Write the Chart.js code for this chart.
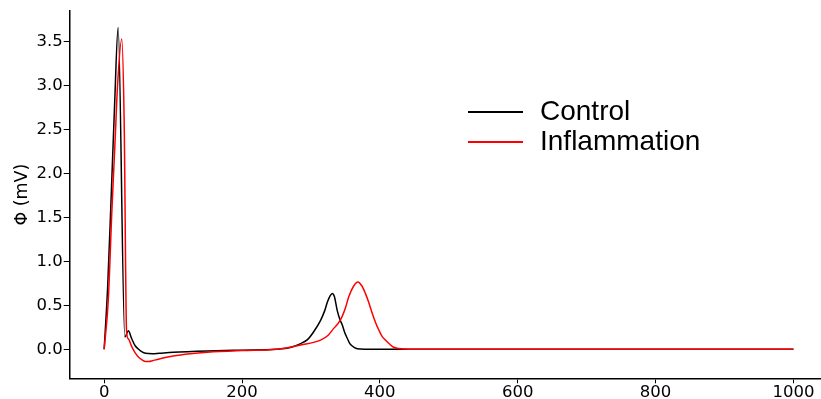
<!DOCTYPE html>
<html>
<head>
<meta charset="utf-8">
<script src="https://cdn.jsdelivr.net/npm/chart.js@4/dist/chart.umd.min.js"></script>
<style>
  html, body { margin: 0; padding: 0; background: #fff; overflow: hidden; }
  #wrap { position: relative; width: 821px; height: 399px; }
</style>
</head>
<body>
<div id="wrap"><canvas id="c" width="821" height="399"></canvas></div>
<script>
// ---- data ----
const seriesNames = ["Control", "Inflammation"];
const seriesColors = ["#000000", "#ff0000"];

const tControl = [0, 5, 10, 15, 20.3, 30, 35, 40, 45, 50, 55, 60, 70, 80, 100, 150, 200, 250, 270, 285, 295, 304, 314, 320, 324, 328, 331, 334, 338, 342, 345.5, 349, 352.7, 356, 360, 365, 372, 385, 500, 1000];
const vControl = [0, 0.7, 1.7, 2.75, 3.66, 0.14, 0.21, 0.12, 0.04, 0.0, -0.03, -0.045, -0.05, -0.045, -0.035, -0.02, -0.01, 0.0, 0.02, 0.065, 0.11, 0.2, 0.33, 0.44, 0.54, 0.61, 0.635, 0.6, 0.446, 0.34, 0.276, 0.19, 0.125, 0.07, 0.037, 0.012, 0.003, 0.0, 0.0, 0.0];

const tInfl = [0, 6, 11, 16, 19.4, 25.5, 29, 32.5, 35, 40, 45, 50, 55, 60, 65, 70, 80, 100, 125, 150, 200, 250, 285, 314, 325, 333, 340, 345.5, 350, 355, 362, 368, 374, 379, 384, 389, 394, 398.5, 403, 408, 414, 420, 428, 435, 450, 1000];
const vInfl = [0, 0.56, 1.54, 2.4, 3.0, 3.53, 2.6, 0.2, 0.12, 0.03, -0.04, -0.09, -0.12, -0.14, -0.14, -0.13, -0.11, -0.076, -0.05, -0.034, -0.015, 0.0, 0.049, 0.105, 0.16, 0.238, 0.3, 0.378, 0.47, 0.6, 0.72, 0.767, 0.72, 0.636, 0.53, 0.408, 0.3, 0.219, 0.15, 0.105, 0.06, 0.023, 0.008, 0.003, 0.0, 0.0];

const xTicks = [0, 200, 400, 600, 800, 1000];
const yTicks = [0.0, 0.5, 1.0, 1.5, 2.0, 2.5, 3.0, 3.5];
const yTitle = "Φ (mV)";

// ---- build ----
const toPts = (t, v) => t.map((x, i) => ({ x: x, y: v[i] }));

const legendPlugin = {
  id: 'customLegend',
  afterDraw(chart) {
    const ctx = chart.ctx;
    ctx.save();
    const rows = [112, 142];
    chart.data.datasets.forEach((ds, i) => {
      const y = rows[i];
      ctx.strokeStyle = ds.borderColor;
      ctx.lineWidth = 2;
      ctx.beginPath();
      ctx.moveTo(468, y);
      ctx.lineTo(523, y);
      ctx.stroke();
      ctx.fillStyle = '#000';
      ctx.font = '28px "Liberation Sans", Arial, sans-serif';
      ctx.textBaseline = 'alphabetic';
      ctx.textAlign = 'left';
      ctx.fillText(ds.label, 540, y + 8);
    });
    ctx.restore();
  }
};

const tickFont = { family: '"DejaVu Sans", sans-serif', size: 16.5 };
const titleFont = { family: '"DejaVu Sans", sans-serif', size: 17.5 };

new Chart(document.getElementById('c'), {
  type: 'line',
  data: {
    datasets: [
      { label: seriesNames[0], data: toPts(tControl, vControl), borderColor: seriesColors[0], borderWidth: 1.5, pointRadius: 0, cubicInterpolationMode: 'monotone', fill: false, order: 2 },
      { label: seriesNames[1], data: toPts(tInfl, vInfl), borderColor: seriesColors[1], borderWidth: 1.5, pointRadius: 0, cubicInterpolationMode: 'monotone', fill: false, order: 1 }
    ]
  },
  options: {
    responsive: false,
    animation: false,
    events: [],
    layout: { padding: { top: 10, right: 0, left: 0, bottom: 0 } },
    plugins: { legend: { display: false }, tooltip: { enabled: false } },
    scales: {
      x: {
        type: 'linear',
        min: -50, max: 1040,
        afterBuildTicks: s => { s.ticks = xTicks.map(v => ({ value: v })); },
        afterFit: s => { s.height = 20.7; },
        grid: { display: true, drawOnChartArea: false, drawTicks: true, tickLength: 5, color: '#000', lineWidth: 1 },
        border: { display: true, color: '#000', width: 1.5 },
        ticks: { color: '#000', font: tickFont, padding: 0, maxRotation: 0, autoSkip: false, callback: v => String(v) }
      },
      y: {
        type: 'linear',
        min: -0.33, max: 3.85,
        afterBuildTicks: s => { s.ticks = yTicks.map(v => ({ value: v })); },
        afterFit: s => { s.width = 69.7; },
        grid: { display: true, drawOnChartArea: false, drawTicks: true, tickLength: 6, color: '#000', lineWidth: 1 },
        border: { display: true, color: '#000', width: 1.5 },
        ticks: { color: '#000', font: tickFont, padding: 1, callback: v => Number(v).toFixed(1) },
        title: { display: true, text: yTitle, color: '#000', font: titleFont, padding: { top: 12, bottom: 0 } }
      }
    }
  },
  plugins: [legendPlugin]
});
</script>
</body>
</html>
